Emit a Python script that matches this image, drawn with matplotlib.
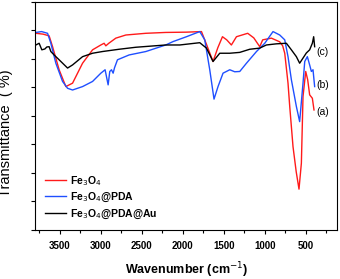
import matplotlib
matplotlib.use("Agg")
import matplotlib.pyplot as plt
from matplotlib.ticker import MultipleLocator, NullFormatter

# FTIR spectra (wavenumber in cm-1, transmittance in arbitrary %)
fe3o4_wn = [3794, 3705, 3632, 3590, 3510, 3428, 3346, 3224, 3102, 3001, 2961, 2940, 2904,
            2818, 2696, 2452, 2209, 1956, 1773, 1709, 1632, 1574, 1517, 1465, 1408, 1346,
            1209, 1135, 1062, 1026, 920, 818, 782, 757, 717, 696, 656, 617, 583, 554, 534,
            501, 477, 453, 420, 400]
fe3o4_t = [69.0, 68.7, 68.1, 64.3, 56.2, 50.3, 51.5, 58.5, 63.2, 64.9, 65.5, 64.6, 65.5,
           67.3, 68.4, 69.0, 69.3, 69.4, 69.6, 64.9, 59.1, 63.9, 67.8, 66.7, 64.9, 67.8,
           69.0, 67.4, 64.3, 66.7, 67.3, 66.0, 64.6, 62.0, 51.5, 43.3, 29.2, 20.4, 14.3, 23.4, 46.8,
           55.6, 52.7, 47.4, 46.2, 42.1]

pda_wn = [3794, 3724, 3651, 3611, 3550, 3468, 3407, 3346, 3224, 3102, 3001, 2949, 2912,
          2892, 2871, 2851, 2834, 2798, 2656, 2452, 2209, 2119, 1956, 1794, 1733, 1672,
          1620, 1571, 1510, 1428, 1367, 1306, 1224, 1102, 1001, 900, 818, 757, 717, 676,
          615, 575, 534, 513, 481, 453, 432, 412, 392]
pda_t = [69.3, 69.6, 69.0, 65.5, 58.5, 52.1, 49.7, 49.1, 50.3, 52.1, 55.0, 56.2, 50.9,
         55.6, 56.2, 55.0, 56.9, 59.7, 61.4, 62.6, 64.9, 66.1, 67.8, 69.6, 66.7, 56.2,
         45.9, 50.3, 55.0, 56.2, 55.5, 55.6, 58.5, 62.6, 65.5, 69.6, 68.4, 66.7, 60.8, 52.7,
         43.3, 38.0, 51.5, 59.1, 60.8, 57.9, 55.6, 56.2, 50.3]

au_wn = [3794, 3754, 3721, 3684, 3660, 3632, 3611, 3571, 3510, 3407, 3346, 3224, 3102,
         2981, 2778, 2574, 2209, 2038, 1794, 1712, 1632, 1550, 1428, 1306, 1184, 1062,
         981, 859, 737, 676, 615, 575, 534, 493, 453, 420, 404, 392]
au_t = [64.9, 65.5, 63.2, 63.5, 64.2, 64.3, 62.6, 61.4, 59.7, 56.8, 57.9, 60.8, 62.0,
        62.6, 63.4, 64.1, 64.9, 64.9, 65.7, 63.8, 59.1, 62.0, 62.0, 62.3, 63.4, 63.8,
        64.9, 65.3, 65.5, 63.2, 60.8, 58.5, 60.3, 62.1, 63.2, 65.5, 67.8, 64.3]

series_labels = ["Fe$_3$O$_4$", "Fe$_3$O$_4$@PDA", "Fe$_3$O$_4$@PDA@Au"]
curve_tags = ["(a)", "(b)", "(c)"]

RED = "#ff1a1a"
BLUE = "#1f4fff"
BLACK = "black"

plt.rcParams["font.family"] = ["Liberation Sans", "DejaVu Sans"]

fig = plt.figure(figsize=(3.4, 2.79), dpi=100)
ax = fig.add_axes([0.104, 0.176, 0.887, 0.817])

ax.plot(fe3o4_wn, fe3o4_t, color=RED, lw=1.0, label=series_labels[0])
ax.plot(pda_wn, pda_t, color=BLUE, lw=1.0, label=series_labels[1])
ax.plot(au_wn, au_t, color=BLACK, lw=1.0, label=series_labels[2])

ax.set_xlim(3800, 120)
ax.set_ylim(0, 80)

ax.xaxis.set_major_locator(MultipleLocator(500))
ax.xaxis.set_minor_locator(MultipleLocator(250))
ax.yaxis.set_major_locator(MultipleLocator(10))
ax.yaxis.set_major_formatter(NullFormatter())
ax.tick_params(axis="both", which="both", direction="out", width=0.8)
ax.tick_params(axis="both", which="major", length=3)
ax.tick_params(axis="x", which="minor", length=2.5)
ax.tick_params(axis="x", labelsize=7, pad=5)
for lab in ax.get_xticklabels():
    lab.set_fontweight("bold")
for s in ax.spines.values():
    s.set_linewidth(0.8)

ax.set_xlabel("Wavenumber (cm$^{-1}$)", fontsize=9, fontweight="bold", labelpad=7)
ax.set_ylabel("Transmittance  ( %)", fontsize=10.5)
ax.yaxis.set_label_coords(-0.075, 0.425)

# curve tags on the right
ax.text(370, 41.5, curve_tags[0], fontsize=7.5, ha="left", va="center")
ax.text(370, 50.9, curve_tags[1], fontsize=7.5, ha="left", va="center")
ax.text(370, 62.6, curve_tags[2], fontsize=7.5, ha="left", va="center")

leg = ax.legend(loc="lower left", frameon=False, prop={"size": 7.5, "weight": "bold"},
                handlelength=2.0, handletextpad=0.4, labelspacing=0.3,
                bbox_to_anchor=(0.0, 0.0))

fig.savefig("out.png", dpi=100)
